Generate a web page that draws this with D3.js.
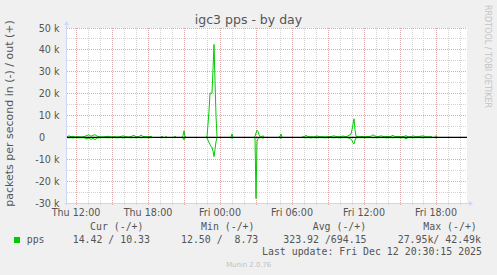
<!DOCTYPE html>
<html><head><meta charset="utf-8">
<script src="https://cdn.jsdelivr.net/npm/d3@7"></script>
<style>html,body{margin:0;padding:0;background:#f0f0f0;}svg{display:block}</style>
</head><body><svg id="c" width="497" height="275"></svg>
<script>
// ---- data ----
const times = [
"Thu 11:15","Thu 11:25","Thu 11:35","Thu 11:45","Thu 11:55","Thu 12:10","Thu 12:25","Thu 12:40","Thu 12:55","Thu 13:05",
"Thu 13:15","Thu 13:25","Thu 13:35","Thu 13:45","Thu 13:55","Thu 14:10","Thu 14:25","Thu 14:40","Thu 14:55","Thu 15:10",
"Thu 15:25","Thu 15:40","Thu 15:55","Thu 16:10","Thu 16:25","Thu 16:35","Thu 16:50","Thu 17:00","Thu 17:15","Thu 17:25",
"Thu 17:35","Thu 17:50","Thu 18:05","Thu 18:20","Thu 18:25",
"Thu 19:05","Thu 19:15","Thu 19:20","Thu 19:25","Thu 19:35","Thu 19:40","Thu 20:10","Thu 20:20","Thu 20:25",
"Thu 20:50","Thu 20:55","Thu 21:00","Thu 21:05","Thu 21:10","Thu 21:15",
"Thu 22:50","Thu 22:55","Thu 23:05","Thu 23:10","Thu 23:15","Thu 23:20","Thu 23:25","Thu 23:30","Thu 23:35","Thu 23:40","Thu 23:45","Thu 23:50",
"Fri 00:55","Fri 01:00","Fri 01:05","Fri 01:10",
"Fri 02:50","Fri 02:55","Fri 03:00","Fri 03:05","Fri 03:10","Fri 03:15","Fri 03:20","Fri 03:30","Fri 03:35","Fri 03:40","Fri 03:45",
"Fri 04:55","Fri 05:00","Fri 05:05","Fri 05:10","Fri 05:15",
"Fri 06:50","Fri 07:00","Fri 07:10","Fri 07:20","Fri 07:35","Fri 07:50","Fri 08:05","Fri 08:15","Fri 08:30","Fri 08:45",
"Fri 09:00","Fri 09:15","Fri 09:30","Fri 09:45","Fri 10:00","Fri 10:15","Fri 10:30","Fri 10:45","Fri 10:55","Fri 11:00",
"Fri 11:05","Fri 11:10","Fri 11:15","Fri 11:20","Fri 11:35","Fri 11:50","Fri 12:05","Fri 12:20","Fri 12:35","Fri 12:45",
"Fri 12:55","Fri 13:10","Fri 13:25","Fri 13:40","Fri 13:55","Fri 14:10","Fri 14:25","Fri 14:35","Fri 14:50","Fri 15:05",
"Fri 15:20","Fri 15:30","Fri 15:40","Fri 15:55","Fri 16:05","Fri 16:20","Fri 16:35","Fri 16:55","Fri 17:10","Fri 17:25",
"Fri 17:40","Fri 17:45","Fri 17:55","Fri 18:00","Fri 18:05","Fri 18:10"
];
const outPps = [
300,700,300,500,200,300,200,300,900,1200,
500,1000,1200,600,300,200,300,500,200,300,
200,300,700,300,200,400,900,300,300,1100,
400,300,300,500,null,
300,300,null,200,200,null,300,300,null,
200,800,3000,400,200,null,
200,300,12000,20200,20200,20300,31000,42490,26000,10000,300,null,
200,1600,200,null,
200,500,2000,3300,2800,1200,300,300,800,200,null,
200,400,1600,200,null,
200,300,900,300,300,200,700,300,300,200,
300,400,700,300,300,600,300,900,1500,3500,
6000,8500,3500,500,300,400,300,400,500,1200,
600,300,700,300,400,300,900,300,400,300,
400,800,300,300,700,300,400,700,300,300,
300,null,300,800,200,null
];
const inPps = [
-100,-200,-100,-300,-100,-200,-100,-200,-700,-300,
-900,-400,-1000,-300,-200,-100,-100,-200,-100,-100,
-200,-100,-200,-100,-100,-200,-100,-200,-100,-200,
-100,-100,-200,-100,null,
-100,-100,null,-100,-100,null,-100,-100,null,
-100,-300,-1100,-200,-100,null,
-100,-200,-2400,-3200,-4200,-4500,-6300,-8800,-5500,-2000,-100,null,
-100,-500,-100,null,
-100,-300,-27950,-2000,-500,-200,-100,-100,-400,-100,null,
-100,-200,-400,-100,null,
-100,-100,-200,-100,-200,-100,-200,-100,-100,-200,
-100,-100,-200,-100,-200,-100,-100,-300,-800,-1500,
-2500,-3000,-1200,-200,-100,-100,-200,-100,-100,-200,
-100,-200,-100,-100,-200,-100,-200,-100,-100,-200,
-100,-700,-100,-100,-200,-100,-100,-200,-100,-100,
-100,null,-100,-300,-100,null
];
const timeDomain = ["Thu 11:15","Fri 20:35"];
const yDomain = [-30000, 50000];
const yTicks = [-30000,-20000,-10000,0,10000,20000,30000,40000,50000];
const yTickLabels = ["-30 k","-20 k","-10 k","0","10 k","20 k","30 k","40 k","50 k"];
const yMinorTicks = [-25000,-15000,-5000,5000,15000,25000,35000,45000];
const xTickTimes = ["Thu 12:00","Thu 18:00","Fri 00:00","Fri 06:00","Fri 12:00","Fri 18:00"];
const xTickLabels = ["Thu 12:00","Thu 18:00","Fri 00:00","Fri 06:00","Fri 12:00","Fri 18:00"];
const title = "igc3 pps - by day";
const yLabel = "packets per second in (-) / out (+)";
const seriesName = "pps";
const legendHeaders = ["Cur (-/+)","Min (-/+)","Avg (-/+)","Max (-/+)"];
const legendValues = ["14.42 / 10.33","12.50 /  8.73","323.92 /694.15","27.95k/ 42.49k"];
const lastUpdate = "Last update: Fri Dec 12 20:30:15 2025";
const version = "Munin 2.0.76";
const watermark = "RRDTOOL / TOBI OETIKER";

// ---- drawing ----
const parseT = s => { const [d, hm] = s.split(" "); const [h, m] = hm.split(":").map(Number);
  return new Date(2025, 11, d === "Thu" ? 11 : 12, h, m); };
const svg = d3.select("#c");
const L = 67, R = 467, T = 28, B = 203;
const x = d3.scaleTime().domain(timeDomain.map(parseT)).range([L, R]);
const y = d3.scaleLinear().domain(yDomain).range([B, T]);
const px = v => Math.floor(v) + 0.5;

const FONT = "DejaVu Sans, sans-serif", MONO = "DejaVu Sans Mono, monospace";
const TXT = "#555";
const MGRID = "#dcaaaa", GRID = "#d4d4d4", AXIS = "#cfd6f8";

svg.append("rect").attr("x", L).attr("y", T).attr("width", R - L).attr("height", B - T).attr("fill", "#fff");

// grid
const g = svg.append("g").attr("stroke-width", 1).attr("stroke-dasharray", "1,1");
const hours = d3.timeHour.range(x.domain()[0], x.domain()[1]);
hours.filter(h => h.getHours() % 3 !== 0).forEach(h => {
  g.append("line").attr("x1", px(x(h))).attr("x2", px(x(h))).attr("y1", T).attr("y2", B).attr("stroke", GRID);
});
yMinorTicks.forEach(v => g.append("line").attr("x1", L).attr("x2", R).attr("y1", px(y(v))).attr("y2", px(y(v))).attr("stroke", GRID));
hours.filter(h => h.getHours() % 3 === 0).forEach(h => {
  g.append("line").attr("x1", px(x(h))).attr("x2", px(x(h))).attr("y1", T).attr("y2", B).attr("stroke", MGRID);
});
yTicks.forEach(v => g.append("line").attr("x1", L).attr("x2", R).attr("y1", px(y(v))).attr("y2", px(y(v))).attr("stroke", MGRID));

// axis tick marks
hours.forEach(h => svg.append("line").attr("x1", px(x(h))).attr("x2", px(x(h))).attr("y1", B).attr("y2", B + 2)
  .attr("stroke", h.getHours() % 3 === 0 ? MGRID : GRID));

// series
const data = times.map((t, i) => ({ t: parseT(t), o: outPps[i], n: inPps[i] }));
const lineOut = d3.line().defined(d => d.o != null).x(d => x(d.t)).y(d => y(d.o));
const lineIn = d3.line().defined(d => d.n != null).x(d => x(d.t)).y(d => y(d.n));
svg.append("path").attr("d", lineIn(data)).attr("fill", "none").attr("stroke", "#00cc00").attr("stroke-width", 1);
svg.append("path").attr("d", lineOut(data)).attr("fill", "none").attr("stroke", "#00cc00").attr("stroke-width", 1);

// zero line
svg.append("line").attr("x1", L).attr("x2", R).attr("y1", y(0)).attr("y2", y(0)).attr("stroke", "#000").attr("stroke-width", 1.3);

// axes
svg.append("line").attr("x1", L - 0.5).attr("x2", L - 0.5).attr("y1", B + 2).attr("y2", T - 5).attr("stroke", AXIS);
svg.append("path").attr("d", `M${L - 3},${T - 3}L${L + 2},${T - 3}L${L - 0.5},${T - 7}Z`).attr("fill", AXIS);
svg.append("line").attr("x1", L - 2).attr("x2", R + 4).attr("y1", B + 0.5).attr("y2", B + 0.5).attr("stroke", AXIS);
svg.append("path").attr("d", `M${R + 2},${B - 2}L${R + 2},${B + 3}L${R + 6},${B + 0.5}Z`).attr("fill", AXIS);

// y labels
yTicks.forEach((v, i) => {
  svg.append("text").attr("x", v === 0 ? 45 : 59.5).attr("y", y(v) + 3.5).attr("text-anchor", "end")
    .attr("font-family", FONT).attr("font-size", 9.6).attr("fill", TXT).text(yTickLabels[i]);
});
// x labels
xTickTimes.forEach((t, i) => {
  svg.append("text").attr("x", x(parseT(t))).attr("y", 215.5).attr("text-anchor", "middle")
    .attr("font-family", FONT).attr("font-size", 9.6).attr("fill", TXT).text(xTickLabels[i]);
});

// title
svg.append("text").attr("x", 248.5).attr("y", 23.5).attr("text-anchor", "middle")
  .attr("font-family", FONT).attr("font-size", 12.5).attr("fill", TXT).text(title);
// y axis label
svg.append("text").attr("transform", "translate(13,113.5) rotate(-90)").attr("text-anchor", "middle")
  .attr("font-family", FONT).attr("font-size", 11).attr("fill", TXT).text(yLabel);
// watermark right
svg.append("text").attr("transform", "translate(485,5) rotate(90)").attr("text-anchor", "start")
  .attr("font-family", FONT).attr("font-size", 8).attr("fill", "#c4c4c4").text(watermark);

// legend
const hx = [90, 201, 312.7, 423.3];
const vx = [72.7, 181, 283.3, 397.7];
legendHeaders.forEach((h, i) => svg.append("text").attr("x", hx[i]).attr("y", 229.8).style("white-space", "pre")
  .attr("font-family", MONO).attr("font-size", 9.9).attr("fill", TXT).text(h));
svg.append("rect").attr("x", 14).attr("y", 237).attr("width", 6).attr("height", 6).attr("fill", "#00cc00");
svg.append("text").attr("x", 26.7).attr("y", 243.3).attr("font-family", MONO).attr("font-size", 9.9).attr("fill", TXT).text(seriesName);
legendValues.forEach((v, i) => svg.append("text").attr("x", vx[i]).attr("y", 243.3).style("white-space", "pre")
  .attr("font-family", MONO).attr("font-size", 9.9).attr("fill", TXT).text(v));
svg.append("text").attr("x", 262).attr("y", 255).style("white-space", "pre")
  .attr("font-family", MONO).attr("font-size", 9.9).attr("fill", TXT).text(lastUpdate);
svg.append("text").attr("x", 248.7).attr("y", 266.5).attr("text-anchor", "middle")
  .attr("font-family", FONT).attr("font-size", 6.9).attr("fill", "#c0c0c0").text(version);
</script></body></html>
